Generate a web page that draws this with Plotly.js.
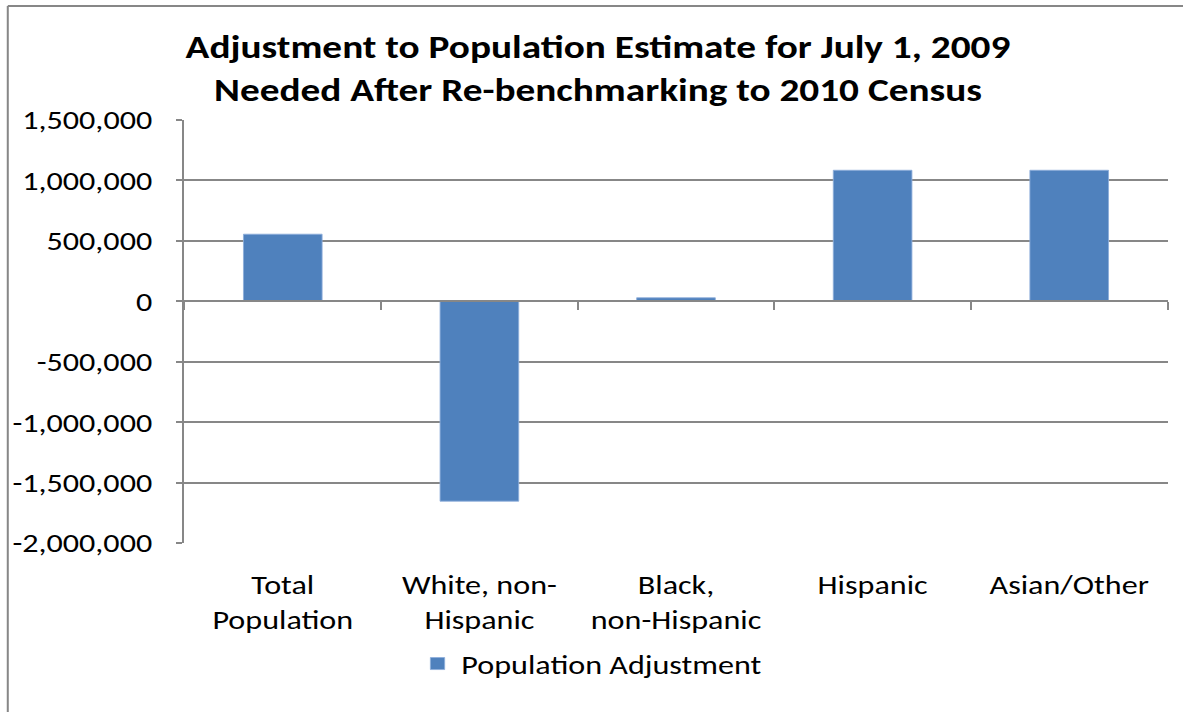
<!DOCTYPE html>
<html>
<head>
<meta charset="utf-8">
<script src="https://cdn.plot.ly/plotly-3.0.1.min.js"></script>
<style>
html,body{margin:0;padding:0;background:#fff;overflow:hidden;}
#chart{width:994px;height:712px;transform-origin:0 0;transform:scaleX(1.19014);}
</style>
</head>
<body>
<div id="chart"></div>
<script>
const categories = ["Total<br>Population", "White, non-<br>Hispanic", "Black,<br>non-Hispanic", "Hispanic", "Asian/Other"];
const adjustment = [555000, -1654000, 29000, 1084000, 1084000];
const yTickVals = [1500000, 1000000, 500000, 0, -500000, -1000000, -1500000, -2000000];
const yTickText = ["1,500,000", "1,000,000", "500,000", "0", "-500,000", "-1,000,000", "-1,500,000", "-2,000,000"];
const seriesName = "Population Adjustment";
const titleText = "Adjustment to Population Estimate for July 1, 2009<br>Needed After Re-benchmarking to 2010 Census";

// The reference is horizontally stretched; the chart is drawn narrower and stretched with CSS.
const S = 1183 / 994;
const FONT = "Carlito, Lato, 'Open Sans', sans-serif";
const GRAY = "#878787";
const W = 994, H = 712;
const mL = 185 / S, mR = 16 / S, mT = 120, mB = 169;
const pw = W - mL - mR, ph = H - mT - mB;
const px = x => (x / S - mL) / pw;   // x given in final (stretched) pixels
const py = y => (H - mB - y) / ph;

const trace = {
  type: "bar",
  x: categories,
  y: adjustment,
  name: seriesName,
  showlegend: true,
  marker: {color: "#4F81BD", line: {color: "#8EAEDA", width: 0.8}},
  hoverinfo: "x+y"
};

const layout = {
  width: W, height: H,
  margin: {l: mL, r: mR, t: mT, b: mB, pad: 0},
  paper_bgcolor: "#ffffff",
  plot_bgcolor: "#ffffff",
  font: {family: FONT, size: 27, color: "#000000"},
  title: {
    text: titleText,
    font: {family: FONT, size: 33, color: "#000000", weight: "bold"},
    x: (598 / S) / W, xanchor: "center", xref: "container",
    y: 1 - 58 / H, yanchor: "middle", yref: "container"
  },
  bargap: 0.6,
  xaxis: {
    type: "category",
    anchor: "free",
    position: py(300.5),
    showline: true, linecolor: GRAY, linewidth: 2,
    ticks: "outside", tickson: "boundaries", ticklen: 8, tickwidth: 1.7, tickcolor: GRAY,
    ticklabelstandoff: 260,
    showgrid: false, zeroline: false,
    tickfont: {family: FONT, size: 27, color: "#000000"}
  },
  yaxis: {
    range: [-2000000, 1500000],
    tickvals: yTickVals, ticktext: yTickText,
    showline: true, linecolor: GRAY, linewidth: 1.7,
    ticks: "outside", ticklen: 5, tickwidth: 2, tickcolor: GRAY,
    ticklabelstandoff: 15,
    showgrid: true, gridcolor: GRAY, gridwidth: 2,
    zeroline: false,
    tickfont: {family: FONT, size: 27, color: "#000000"}
  },
  showlegend: true,
  legend: {
    orientation: "h",
    x: px(414), xanchor: "left",
    y: py(664), yanchor: "middle",
    font: {family: FONT, size: 27, color: "#000000"},
    bgcolor: "rgba(0,0,0,0)",
    itemwidth: 30
  },
  shapes: [
    {type: "line", xref: "paper", yref: "paper", x0: px(8.5), x1: px(1190), y0: py(6), y1: py(6), line: {color: GRAY, width: 2}},
    {type: "line", xref: "paper", yref: "paper", x0: px(8.5), x1: px(8.5), y0: py(6), y1: py(720), line: {color: GRAY, width: 1.7}}
  ]
};

Plotly.newPlot("chart", [trace], layout, {displayModeBar: false, staticPlot: true});
</script>
</body>
</html>
